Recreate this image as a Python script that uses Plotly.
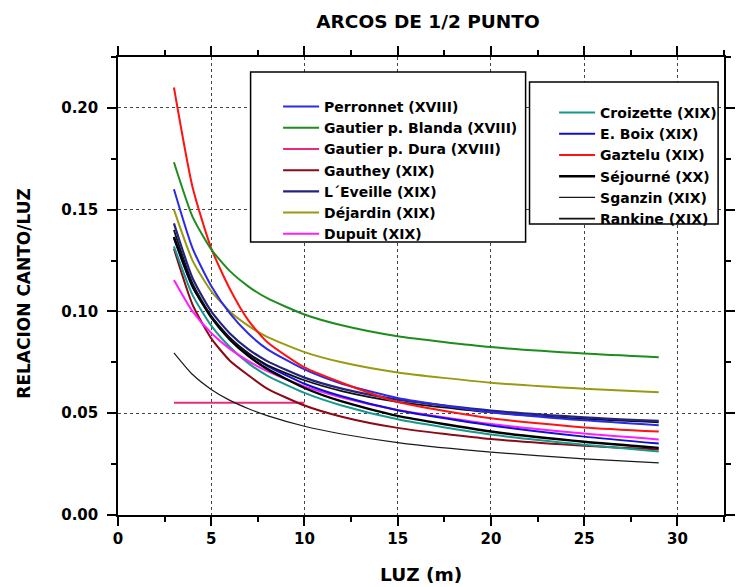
import plotly.graph_objects as go

# ---- data ----
luz = [3, 4, 5, 6, 7, 8, 10, 12, 15, 20, 25, 29]

perronnet = [0.160, 0.131, 0.1125, 0.099, 0.089, 0.0815, 0.0715, 0.0645, 0.0575, 0.0505, 0.0465, 0.0441]
gautier_blanda = [0.1733, 0.1465, 0.1305, 0.1198, 0.1122, 0.1065, 0.0985, 0.0932, 0.0878, 0.0825, 0.0793, 0.0775]
gautier_dura_x = [3, 10]
gautier_dura = [0.0552, 0.0552]
gauthey = [0.1308, 0.1033, 0.0868, 0.0758, 0.0686, 0.0621, 0.0538, 0.0483, 0.0428, 0.0373, 0.0340, 0.0322]
leveille = [0.1433, 0.1163, 0.1000, 0.0892, 0.0814, 0.0756, 0.0675, 0.0621, 0.0567, 0.0513, 0.0480, 0.0462]
dejardin = [0.150, 0.125, 0.110, 0.100, 0.0929, 0.0875, 0.080, 0.075, 0.070, 0.065, 0.062, 0.0603]
dupuit = [0.1155, 0.100, 0.0894, 0.0816, 0.0756, 0.0707, 0.0632, 0.0577, 0.0516, 0.0447, 0.040, 0.0371]
croizette = [0.132, 0.108, 0.093, 0.0825, 0.0745, 0.0685, 0.0600, 0.0538, 0.0470, 0.0395, 0.0345, 0.0312]
e_boix = [0.136, 0.112, 0.0975, 0.0870, 0.0793, 0.0733, 0.0645, 0.0583, 0.0515, 0.0440, 0.0385, 0.0351]
gaztelu = [0.210, 0.161, 0.131, 0.111, 0.0955, 0.085, 0.0725, 0.065, 0.0555, 0.0475, 0.043, 0.0410]
sejourne = [0.1366, 0.1125, 0.0971, 0.0862, 0.0781, 0.0718, 0.0624, 0.0558, 0.0487, 0.0410, 0.0360, 0.0330]
sganzin = [0.0797, 0.069, 0.0617, 0.0563, 0.0522, 0.0488, 0.0436, 0.0398, 0.0356, 0.0309, 0.0276, 0.0256]
rankine = [0.1400, 0.1137, 0.0978, 0.0870, 0.0794, 0.0737, 0.0662, 0.0609, 0.0556, 0.0504, 0.0472, 0.0455]

x_ticks = [0, 5, 10, 15, 20, 25, 30]
y_ticks = [0.00, 0.05, 0.10, 0.15, 0.20]

FONT = "DejaVu Sans"

fig = go.Figure()

def add(name, x, y, color, width, legend):
    fig.add_trace(go.Scatter(x=x, y=y, mode="lines", name=name,
                             line=dict(color=color, width=width, shape="spline", smoothing=0.6),
                             legend=legend))

# draw order: back to front
add("Gautier p. Dura (XVIII)", gautier_dura_x, gautier_dura, "#ec2a7c", 2, "legend")
add("Sganzin (XIX)", luz, sganzin, "#1a1a1a", 1.2, "legend2")
add("Gauthey (XIX)", luz, gauthey, "#8c0a16", 2, "legend")
add("Croizette (XIX)", luz, croizette, "#16998b", 2, "legend2")
add("Dupuit (XIX)", luz, dupuit, "#ff1cff", 2, "legend")
add("E. Boix (XIX)", luz, e_boix, "#1010d4", 2, "legend2")
add("Séjourné (XX)", luz, sejourne, "#000000", 2.4, "legend2")
add("Rankine (XIX)", luz, rankine, "#101010", 1.8, "legend2")
add("L´Eveille (XIX)", luz, leveille, "#24247e", 2.2, "legend")
add("Déjardin (XIX)", luz, dejardin, "#9a9a12", 2, "legend")
add("Perronnet (XVIII)", luz, perronnet, "#2a2ae8", 2, "legend")
add("Gaztelu (XIX)", luz, gaztelu, "#ff1212", 2, "legend2")
add("Gautier p. Blanda (XVIII)", luz, gautier_blanda, "#1e8c1e", 2, "legend")

order1 = ["Perronnet (XVIII)", "Gautier p. Blanda (XVIII)", "Gautier p. Dura (XVIII)",
          "Gauthey (XIX)", "L´Eveille (XIX)", "Déjardin (XIX)", "Dupuit (XIX)"]
order2 = ["Croizette (XIX)", "E. Boix (XIX)", "Gaztelu (XIX)", "Séjourné (XX)",
          "Sganzin (XIX)", "Rankine (XIX)"]
for tr in fig.data:
    if tr.name in order1:
        tr.legendrank = order1.index(tr.name) + 1
    else:
        tr.legendrank = order2.index(tr.name) + 1

L, R, T, B = 118, 4, 57, 72
W, H = 739, 587
pw, ph = W - L - R, H - T - B

def px(xp):
    return (xp - L) / pw

def py(yp):
    return (H - B - yp) / ph

axis_common = dict(
    showline=True, linecolor="black", linewidth=1.5, mirror="ticks",
    ticks="outside", ticklen=9, tickwidth=1.5, tickcolor="black",
    showgrid=True, gridcolor="#444444", griddash="dot", gridwidth=1,
    zeroline=False, tickfont=dict(family=FONT, size=15, color="black", weight="bold"),
)

fig.update_xaxes(range=[0, 32.5], tickvals=x_ticks, ticktext=[str(v) for v in x_ticks],
                 minor=dict(ticks="outside", ticklen=5, tickwidth=1.5, tickcolor="black",
                            dtick=2.5, tick0=0, showgrid=False), **axis_common)
fig.update_yaxes(range=[0, 0.225], tickvals=y_ticks, ticktext=[f"{v:.2f}" for v in y_ticks],
                 ticklabelstandoff=6,
                 minor=dict(ticks="outside", ticklen=5, tickwidth=1.5, tickcolor="black",
                            dtick=0.025, tick0=0, showgrid=False), **axis_common)

legend_common = dict(bgcolor="rgba(0,0,0,0)", borderwidth=0,
                     font=dict(family=FONT, size=14, color="black", weight="bold"),
                     xanchor="left", yanchor="top", itemwidth=36, tracegroupgap=0)

fig.update_layout(
    width=W, height=H,
    margin=dict(l=L, r=R, t=T, b=B),
    paper_bgcolor="white", plot_bgcolor="white",
    showlegend=True,
    title=dict(text="ARCOS DE 1/2 PUNTO", x=428 / W, xanchor="center", xref="container",
               y=1 - 22 / H, yanchor="middle", yref="container",
               font=dict(family=FONT, size=18.5, color="black", weight="bold")),
    legend=dict(x=px(281), y=py(91), **legend_common),
    legend2=dict(x=px(562), y=py(97), **legend_common),
    shapes=[
        dict(type="rect", xref="paper", yref="paper", x0=px(253), x1=px(533), y0=py(242), y1=py(72),
             line=dict(color="black", width=1.5), fillcolor="white", layer="above"),
        dict(type="rect", xref="paper", yref="paper", x0=px(537), x1=px(729), y0=py(224), y1=py(82),
             line=dict(color="black", width=1.5), fillcolor="white", layer="above"),
    ],
    annotations=[
        dict(text="RELACION CANTO/LUZ", textangle=-90, xref="paper", yref="paper",
             x=px(22), y=py(293), xanchor="center", yanchor="middle", showarrow=False,
             font=dict(family=FONT, size=17, color="black", weight="bold")),
        dict(text="LUZ (m)", xref="paper", yref="paper", x=px(426), y=py(574),
             xanchor="center", yanchor="middle", showarrow=False,
             font=dict(family=FONT, size=18.5, color="black", weight="bold")),
    ],
)

fig.write_html("out.html", config={"displayModeBar": False},
               post_script="document.body.style.margin='0px';")
